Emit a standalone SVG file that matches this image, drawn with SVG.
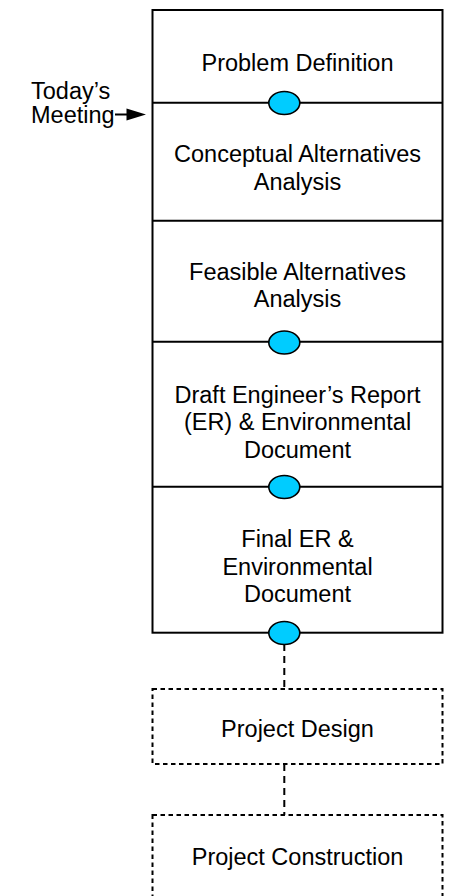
<svg xmlns="http://www.w3.org/2000/svg" width="458" height="896" viewBox="0 0 458 896">
<style>
text{font-family:"Liberation Sans",Arial,sans-serif;font-size:23.5px;fill:#000}
.c{text-anchor:middle}
.box{fill:#fff;stroke:#000;stroke-width:2}
.sep{stroke:#000;stroke-width:2}
.dbox{fill:#fff;stroke:#000;stroke-width:2;stroke-dasharray:4.5,3.5}
.conn{stroke:#000;stroke-width:2;stroke-dasharray:7,5;fill:none}
.ms{fill:#00CCFF;stroke:#000;stroke-width:1.6}
</style>
<rect width="458" height="896" fill="#fff"/>
<g id="main-box">
<rect class="box" x="152.5" y="10" width="290" height="622.7"/>
</g>
<g id="problem-definition">
<text class="c" x="297.5" y="70.7">Problem Definition</text>
</g>
<line class="sep" x1="152.5" y1="102.7" x2="442.5" y2="102.7"/>
<g id="conceptual-alternatives">
<text class="c" x="297.5" y="162">Conceptual Alternatives</text>
<text class="c" x="297.5" y="190">Analysis</text>
</g>
<line class="sep" x1="152.5" y1="220.7" x2="442.5" y2="220.7"/>
<g id="feasible-alternatives">
<text class="c" x="297.5" y="280">Feasible Alternatives</text>
<text class="c" x="297.5" y="307">Analysis</text>
</g>
<line class="sep" x1="152.5" y1="341.7" x2="442.5" y2="341.7"/>
<g id="draft-er">
<text class="c" x="297.5" y="402.7">Draft Engineer’s Report</text>
<text class="c" x="297.5" y="430">(ER) &amp; Environmental</text>
<text class="c" x="297.5" y="457.5">Document</text>
</g>
<line class="sep" x1="152.5" y1="486.7" x2="442.5" y2="486.7"/>
<g id="final-er">
<text class="c" x="297.5" y="546.7">Final ER &amp;</text>
<text class="c" x="297.5" y="575">Environmental</text>
<text class="c" x="297.5" y="602">Document</text>
</g>
<g id="connectors">
<line class="conn" x1="284.3" y1="644" x2="284.3" y2="689"/>
<line class="conn" x1="284.3" y1="764" x2="284.3" y2="815"/>
</g>
<g id="milestones">
<ellipse class="ms" cx="284.3" cy="103" rx="15.5" ry="11.5"/>
<ellipse class="ms" cx="284.3" cy="342.5" rx="15.5" ry="11.5"/>
<ellipse class="ms" cx="284.3" cy="487" rx="15.5" ry="11.5"/>
<ellipse class="ms" cx="284.3" cy="633" rx="15.5" ry="11.5"/>
</g>
<g id="project-design">
<rect class="dbox" x="152.5" y="689" width="290" height="75"/>
<text class="c" x="297.5" y="736.7">Project Design</text>
</g>
<g id="project-construction">
<rect class="dbox" x="152.5" y="815" width="290" height="100"/>
<text class="c" x="297.5" y="865">Project Construction</text>
</g>
<g id="todays-meeting">
<text x="31" y="99.3">Today’s</text>
<text x="31" y="123.3">Meeting</text>
<line x1="115" y1="114.5" x2="130" y2="114.5" stroke="#000" stroke-width="2"/>
<polygon points="146,114.5 126.5,108.5 126.5,120.5" fill="#000"/>
</g>
</svg>
